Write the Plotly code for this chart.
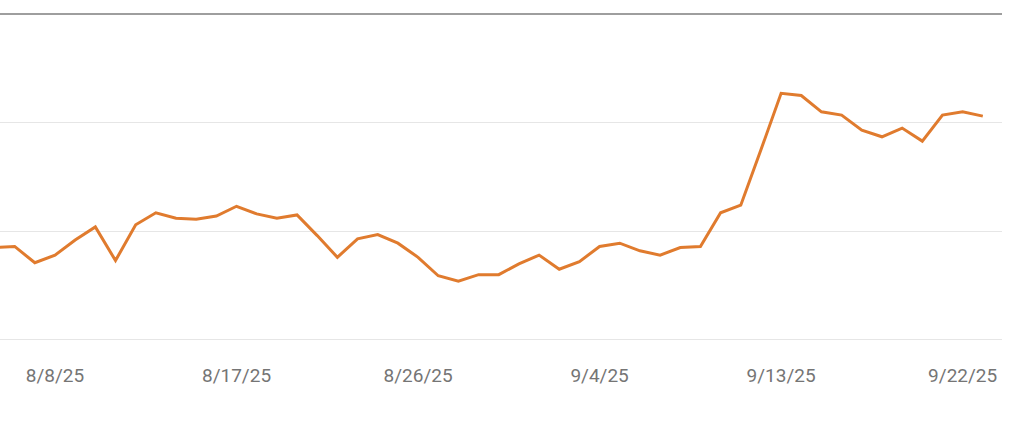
import pandas as pd
import plotly.graph_objects as go

# daily values, 8/5/25 .. 9/23/25
dates = pd.date_range("2025-08-05", "2025-09-23", freq="D")
values = [385, 386, 371, 378, 392, 404, 373, 406, 417, 412,
          411, 414, 423, 416, 412, 415, 396, 376, 393, 397,
          389, 376, 359, 354, 360, 360, 370, 378, 365, 372,
          386, 389, 382, 378, 385, 386, 417, 424, 475, 527,
          525, 510, 507, 493, 487, 495, 483, 507, 510, 506]

tick_dates = ["2025-08-08", "2025-08-17", "2025-08-26", "2025-09-04", "2025-09-13", "2025-09-22"]
tick_text = ["8/8/25", "8/17/25", "8/26/25", "9/4/25", "9/13/25", "9/22/25"]
y_grid = [300, 400, 500, 600]

fig = go.Figure()
fig.add_trace(go.Scatter(
    x=dates,
    y=values,
    mode="lines",
    line=dict(color="#E07B2E", width=3),
    hoverinfo="x+y",
))

# darker line along the top of the chart
fig.add_shape(type="line", xref="paper", x0=0, x1=1, yref="y", y0=600, y1=600,
              line=dict(color="#9E9E9E", width=2))

fig.update_layout(
    width=1024,
    height=428,
    margin=dict(l=0, r=22, t=13, b=86),
    paper_bgcolor="white",
    plot_bgcolor="white",
    showlegend=False,
    xaxis=dict(
        range=["2025-08-05 06:33", "2025-09-23 22:50"],
        tickvals=tick_dates,
        ticktext=tick_text,
        showgrid=False,
        zeroline=False,
        showline=False,
        ticks="outside",
        ticklen=16,
        tickcolor="rgba(0,0,0,0)",
        tickfont=dict(family="Roboto", size=19, color="#757575"),
    ),
    yaxis=dict(
        range=[298, 601],
        tickvals=y_grid,
        showticklabels=False,
        showgrid=True,
        gridcolor="#E6E6E6",
        gridwidth=1,
        zeroline=False,
        showline=False,
    ),
)

# drop the page margin so the chart sits at the window's corner
fig.write_html("out.html", config={"displayModeBar": False},
               post_script="document.body.style.margin='0';")
